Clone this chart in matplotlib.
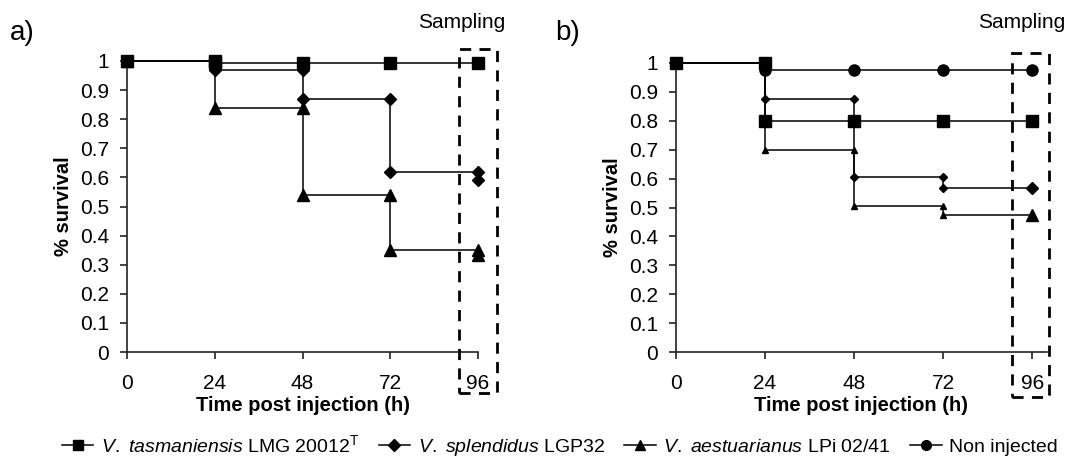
import matplotlib
matplotlib.use("Agg")
import matplotlib.pyplot as plt
from matplotlib.lines import Line2D
from matplotlib.patches import Rectangle

plt.rcParams['font.family'] = ['Liberation Sans', 'DejaVu Sans']
plt.rcParams['mathtext.fontset'] = 'custom'
plt.rcParams['mathtext.rm'] = 'Liberation Sans'
plt.rcParams['mathtext.it'] = 'Liberation Sans:italic'
plt.rcParams['mathtext.bf'] = 'Liberation Sans:bold'

# ---- data (step survival curves: every vertex is a marker) ----
hours = [0, 24, 48, 72, 96]
y_ticks = [0, 0.1, 0.2, 0.3, 0.4, 0.5, 0.6, 0.7, 0.8, 0.9, 1]
y_tick_labels = ["0", "0.1", "0.2", "0.3", "0.4", "0.5", "0.6", "0.7", "0.8", "0.9", "1"]

# panel a
a_tas_x = [0, 24, 24, 48, 72, 96]
a_tas_y = [1.0, 1.0, 0.993, 0.993, 0.993, 0.993]
a_spl_x = [0, 24, 24, 48, 48, 72, 72, 96, 96]
a_spl_y = [1.0, 1.0, 0.97, 0.97, 0.87, 0.87, 0.62, 0.62, 0.59]
a_aes_x = [0, 24, 24, 48, 48, 72, 72, 96, 96]
a_aes_y = [1.0, 1.0, 0.84, 0.84, 0.54, 0.54, 0.35, 0.35, 0.335]

# panel b
b_tas_x = [0, 24, 24, 48, 72, 96]
b_tas_y = [1.0, 1.0, 0.80, 0.80, 0.80, 0.80]
b_spl_x = [0, 24, 24, 48, 48, 72, 72, 96]
b_spl_y = [1.0, 1.0, 0.876, 0.876, 0.607, 0.607, 0.566, 0.566]
b_aes_x = [0, 24, 24, 48, 48, 72, 72, 96]
b_aes_y = [1.0, 1.0, 0.70, 0.70, 0.506, 0.506, 0.474, 0.474]
b_non_x = [0, 24, 24, 48, 72, 96]
b_non_y = [1.0, 1.0, 0.977, 0.977, 0.977, 0.977]

legend_labels = [r"$\it{V.}$ $\it{tasmaniensis}$ LMG 20012$^{\rm T}$",
                 r"$\it{V.}$ $\it{splendidus}$ LGP32",
                 r"$\it{V.}$ $\it{aestuarianus}$ LPi 02/41",
                 "Non injected"]

fig = plt.figure(figsize=(10.75, 4.63), dpi=100)
ax_a = fig.add_axes([127/1075, 1-352/463, 351/1075, 291/463])
ax_b = fig.add_axes([676/1075, 1-352/463, 371/1075, 289/463])

def style(ax, xmax):
    ax.set_xlim(0, xmax)
    ax.set_ylim(0, 1)
    for s in ("top", "right"):
        ax.spines[s].set_visible(False)
    for s in ("left", "bottom"):
        ax.spines[s].set_linewidth(1.2)
        ax.spines[s].set_color("#222222")
    ax.set_xticks(hours)
    ax.set_xticklabels([str(h) for h in hours])
    ax.set_yticks(y_ticks)
    ax.set_yticklabels(y_tick_labels)
    ax.tick_params(direction="out", length=5, width=1.2, labelsize=15, color="#222222")
    ax.tick_params(axis="x", pad=11)
    ax.tick_params(axis="y", pad=8)
    ax.set_xlabel("Time post injection (h)", fontsize=14.5, fontweight="bold", labelpad=2)
    ax.set_ylabel("% survival", fontsize=14.5, fontweight="bold", labelpad=5)
    ax.patch.set_alpha(0)

style(ax_a, 96)
style(ax_b, 100)

kw = dict(color="black", lw=1.1, clip_on=False, zorder=3)
ax_a.plot(a_tas_x, a_tas_y, marker="s", ms=8, **kw)
ax_a.plot(a_spl_x, a_spl_y, marker="D", ms=6, **kw)
ax_a.plot(a_aes_x, a_aes_y, marker="^", ms=8, **kw)

ax_b.plot(b_tas_x, b_tas_y, marker="s", ms=8, **kw)
ax_b.plot(b_spl_x[:-1], b_spl_y[:-1], marker="D", ms=4, **kw)
ax_b.plot(b_spl_x[-2:], b_spl_y[-2:], color="black", lw=1.1, clip_on=False, zorder=3)
ax_b.plot(b_spl_x[-1:], b_spl_y[-1:], marker="D", ms=6, ls="none", color="black", clip_on=False, zorder=4)
ax_b.plot(b_aes_x[:-1], b_aes_y[:-1], marker="^", ms=5, **kw)
ax_b.plot(b_aes_x[-2:], b_aes_y[-2:], color="black", lw=1.1, clip_on=False, zorder=3)
ax_b.plot(b_aes_x[-1:], b_aes_y[-1:], marker="^", ms=8, ls="none", color="black", clip_on=False, zorder=4)
ax_b.plot(b_non_x, b_non_y, marker="o", ms=8, **kw)

# sampling boxes
ax_a.add_patch(Rectangle((90.8, -0.14), 10.4, 1.18, fill=False, ls=(0, (4, 3)), lw=2,
                         edgecolor="black", clip_on=False, transform=ax_a.transData, zorder=5))
ax_b.add_patch(Rectangle((90.6, -0.155), 10.0, 1.19, fill=False, ls=(0, (4, 3)), lw=2,
                         edgecolor="black", clip_on=False, transform=ax_b.transData, zorder=5))

fig.text(462/1075, 1-22/463, "Sampling", fontsize=15, ha="center", va="center")
fig.text(1022/1075, 1-22/463, "Sampling", fontsize=15, ha="center", va="center")
fig.text(10/1075, 1-33/463, "a)", fontsize=20, ha="left", va="center")
fig.text(555/1075, 1-33/463, "b)", fontsize=20, ha="left", va="center")

handles = [Line2D([], [], color="black", lw=1.1, marker=m, ms=s)
           for m, s in zip(["s", "D", "^", "o"], [7, 6, 7, 7])]
fig.legend(handles, legend_labels, loc="center", bbox_to_anchor=(560/1075, 1-446/463),
           ncol=4, frameon=False, fontsize=14, handlelength=1.6, handletextpad=0.4,
           columnspacing=1.0, borderpad=0)

fig.savefig("out.png", dpi=100, facecolor="white")
